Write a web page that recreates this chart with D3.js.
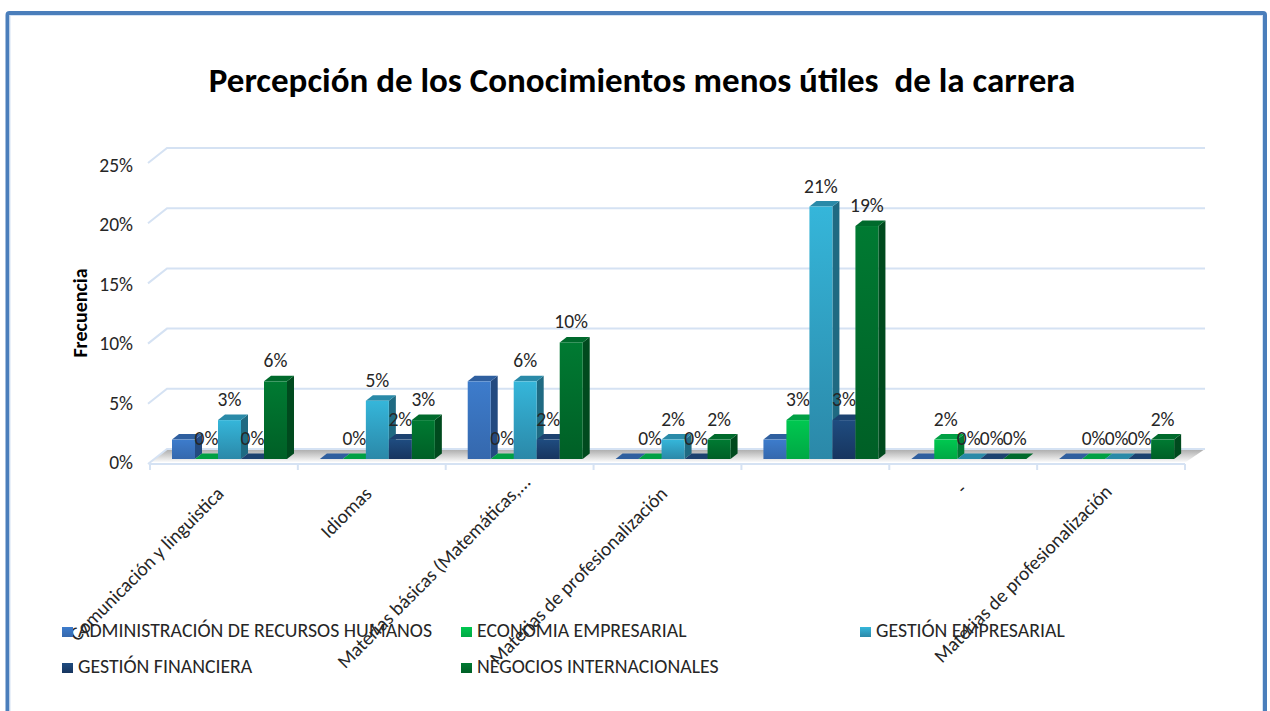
<!DOCTYPE html>
<html><head><meta charset="utf-8">
<script src="https://cdn.jsdelivr.net/npm/d3@7"></script>
<style>html,body{margin:0;padding:0;background:#fff}svg{display:block}text{font-family:Carlito,Calibri,"Open Sans","Noto Sans",sans-serif}</style>
</head><body>
<svg id="c" width="1270" height="711"></svg>
<script>
const title = "Percepción de los Conocimientos menos útiles  de la carrera";
const yTitle = "Frecuencia";
const categories = ["Comunicación y linguistica","Idiomas","Materias básicas (Matemáticas,...","Materias de profesionalización","","-","Materias de profesionalización"];
const seriesNames = ["ADMINISTRACIÓN DE RECURSOS HUMANOS","ECONOMIA EMPRESARIAL","GESTIÓN EMPRESARIAL","GESTIÓN FINANCIERA","NEGOCIOS INTERNACIONALES"];
const admin = [1.61,0,6.45,0,1.61,0,0];
const economia = [0,0,0,0,3.23,1.61,0];
const gestion = [3.23,4.84,6.45,1.61,20.97,0,0];
const financiera = [0,1.61,1.61,0,3.23,0,0];
const negocios = [6.45,3.23,9.68,1.61,19.35,0,1.61];
const seriesValues = [admin,economia,gestion,financiera,negocios];
const labelledSeries = [false,true,true,true,true];
const yTicks = [0,5,10,15,20,25];
const palette = [
 {top:"#2f5f9f",side:"#234a80",a:"#3d7ccc",b:"#3568ad"},
 {top:"#00a044",side:"#007a34",a:"#00c850",b:"#00a844"},
 {top:"#2a8aa8",side:"#1f6a82",a:"#35b6da",b:"#2b88a8"},
 {top:"#1c4270",side:"#122f54",a:"#1f4c80",b:"#17355f"},
 {top:"#006a2c",side:"#004a1e",a:"#007a32",b:"#005f26"}];
const catLabelNudge = {2:[11,-12],5:[4,-4],6:[1,-2]};

const svg = d3.select("#c");
const defs = svg.append("defs");
palette.forEach((p,i)=>{
  const g = defs.append("linearGradient").attr("id","g"+i).attr("x1",0).attr("x2",0).attr("y1",0).attr("y2",1);
  g.append("stop").attr("offset","0").attr("stop-color",p.a);
  g.append("stop").attr("offset","1").attr("stop-color",p.b);
});
const fl = defs.append("linearGradient").attr("id","floor").attr("x1",0).attr("x2",0).attr("y1",0).attr("y2",1);
fl.append("stop").attr("offset","0").attr("stop-color","#a9a9a9");
fl.append("stop").attr("offset","1").attr("stop-color","#fafafa");

// frame
svg.append("rect").attr("x",7.5).attr("y",13).attr("width",1257.5).attr("height",730).attr("rx",2)
  .attr("fill","#fff").attr("stroke","#4a7ebb").attr("stroke-width",4);
svg.append("rect").attr("x",10).attr("y",15.5).attr("width",1252.5).attr("height",730)
  .attr("fill","none").attr("stroke","#d3e2f4").attr("stroke-width",1);

svg.append("text").attr("x",642).attr("y",92).attr("text-anchor","middle")
  .attr("font-size",35).attr("font-weight",700).attr("fill","#000").style("white-space","pre").text(title);

// scales
const y = d3.scaleLinear().domain([0,25]).range([459,158]);
const yLabel = d3.scaleLinear().domain([0,25]).range([469,172]);
const x0 = d3.scaleBand().domain(d3.range(categories.length)).range([150,1185]);
const x1 = d3.scaleBand().domain(d3.range(5)).range([0,115]);
const groupPad = 22;
const bd = 7, bh = 5.5;

// floor
svg.append("path").attr("d",`M150,462L167,449H1205L1186,462Z`).attr("fill","url(#floor)");
// back wall gridlines
const grid = svg.append("g").attr("fill","none").attr("stroke","#d5e2f3").attr("stroke-width",2);
yTicks.forEach(t=>{
  grid.append("path").attr("d",`M148,${y(t)+5}L167,${y(t)-10}H1205`);
});
// front category line with ticks
const ax = svg.append("g").attr("stroke","#d5e2f3").attr("stroke-width",2).attr("fill","none");
ax.append("path").attr("d",`M150,464H1185`);
d3.range(categories.length+1).forEach(i=>{
  const px = i<categories.length ? x0(i) : x0.range()[1];
  ax.append("path").attr("d",`M${px},464V470`);
});

// bars
seriesValues.forEach((vals,s)=>{
  const g = svg.append("g");
  vals.forEach((v,c)=>{
    const l = x0(c)+groupPad+x1(s), w = x1.bandwidth(), t = y(v), b = y(0), p = palette[s];
    g.append("path").attr("d",`M${l+w},${b}L${l+w+bd},${b-bh}V${t-bh}L${l+w},${t}Z`).attr("fill",p.side);
    g.append("path").attr("d",`M${l},${t}L${l+bd},${t-bh}H${l+w+bd}L${l+w},${t}Z`).attr("fill",p.top);
    if(v>0) g.append("rect").attr("x",l).attr("y",t).attr("width",w).attr("height",b-t).attr("fill",`url(#g${s})`);
  });
});
// value labels
seriesValues.forEach((vals,s)=>{
  if(!labelledSeries[s]) return;
  vals.forEach((v,c)=>{
    svg.append("text").attr("x",x0(c)+groupPad+x1(s)+x1.bandwidth()/2).attr("y",y(v)-14)
      .attr("text-anchor","middle").attr("font-size",19.5).attr("fill","#262626")
      .text(d3.format(".0f")(v)+"%");
  });
});

// y axis labels
yTicks.forEach(t=>{
  svg.append("text").attr("x",133).attr("y",yLabel(t)).attr("text-anchor","end")
    .attr("font-size",19.5).attr("fill","#262626").text(t+"%");
});
svg.append("text").attr("transform","translate(87,313) rotate(-90)").attr("text-anchor","middle")
  .attr("font-size",20).attr("font-weight",700).attr("fill","#000").text(yTitle);

// category labels
categories.forEach((c,i)=>{
  const n = catLabelNudge[i] || [0,0];
  svg.append("text").attr("transform",`translate(${x0(i)+x0.bandwidth()/2+1+n[0]},${495+n[1]}) rotate(-45)`)
    .attr("text-anchor","end").attr("font-size",19.5).attr("fill","#262626").text(c);
});

// legend
const legendX = [62,461,860,62,461], legendY = [631,631,631,667,667];
seriesNames.forEach((n,i)=>{
  svg.append("rect").attr("x",legendX[i]).attr("y",legendY[i]-4).attr("width",11).attr("height",10).attr("fill",`url(#g${i})`);
  svg.append("text").attr("x",legendX[i]+16).attr("y",legendY[i]+5.5).attr("font-size",19.8).attr("fill","#262626").text(n);
});
</script>
</body></html>
